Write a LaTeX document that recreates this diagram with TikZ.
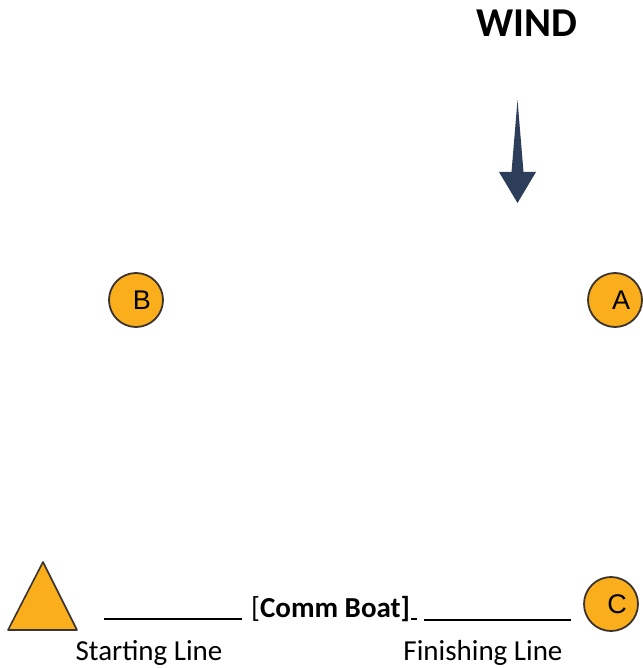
\documentclass[tikz,border=0pt]{standalone}
\usepackage{fontspec}
\setmainfont{Carlito}
\newfontfamily\markfont{Liberation Sans}
\definecolor{buoy}{HTML}{FBAE1B}
\definecolor{buoyedge}{HTML}{3B3330}
\definecolor{windblue}{HTML}{2C3E5A}
\newcommand{\buoyletter}[1]{\kern12pt#1}
\tikzset{
  mark buoy/.style={circle, draw=buoyedge, line width=1.8pt, fill=buoy,
    minimum size=54pt, inner sep=0pt, font=\markfont\fontsize{27}{27}\selectfont},
  label text/.style={anchor=base, inner sep=0pt, font=\fontsize{29}{29}\selectfont},
  line mark/.style={line width=2pt, black},
}
\begin{document}
\begin{tikzpicture}[x=1pt, y=-1pt]
  \useasboundingbox (0,0) rectangle (642,668);
  % wind heading and arrow
  \node[anchor=base, inner sep=0pt, font=\fontsize{41}{41}\selectfont\bfseries] (wind) at (527,37) {WIND};
  \fill[windblue] (517.5,100) -- (523.5,172) -- (536,172) -- (517.5,203)
    -- (499,172) -- (511.5,172) -- cycle;
  % marks
  \node[mark buoy] (B) at (136,300) {\buoyletter{B}};
  \node[mark buoy] (A) at (615,300) {\buoyletter{A}};
  \node[mark buoy] (C) at (611,604) {\buoyletter{C}};
  % start mark
  \node[coordinate] (t1) at (43,562) {};
  \filldraw[fill=buoy, draw=buoyedge, line width=1.6pt, line join=round]
    (t1) -- (77,630) -- (8,630) -- cycle;
  % start and finish lines with the committee boat between them
  \node[label text, anchor=base west] (boat) at (251,617) {[\textbf{Comm Boat]}};
  \draw[line mark] (104,619) -- (242,619);
  \draw[line mark] (411,619) -- (417,619);
  \draw[line mark] (424,620) -- (571,620);
  \node[label text] (start) at (149,660) {Starting Line};
  \node[label text] (finish) at (483,660) {Finishing Line};
\end{tikzpicture}
\end{document}
